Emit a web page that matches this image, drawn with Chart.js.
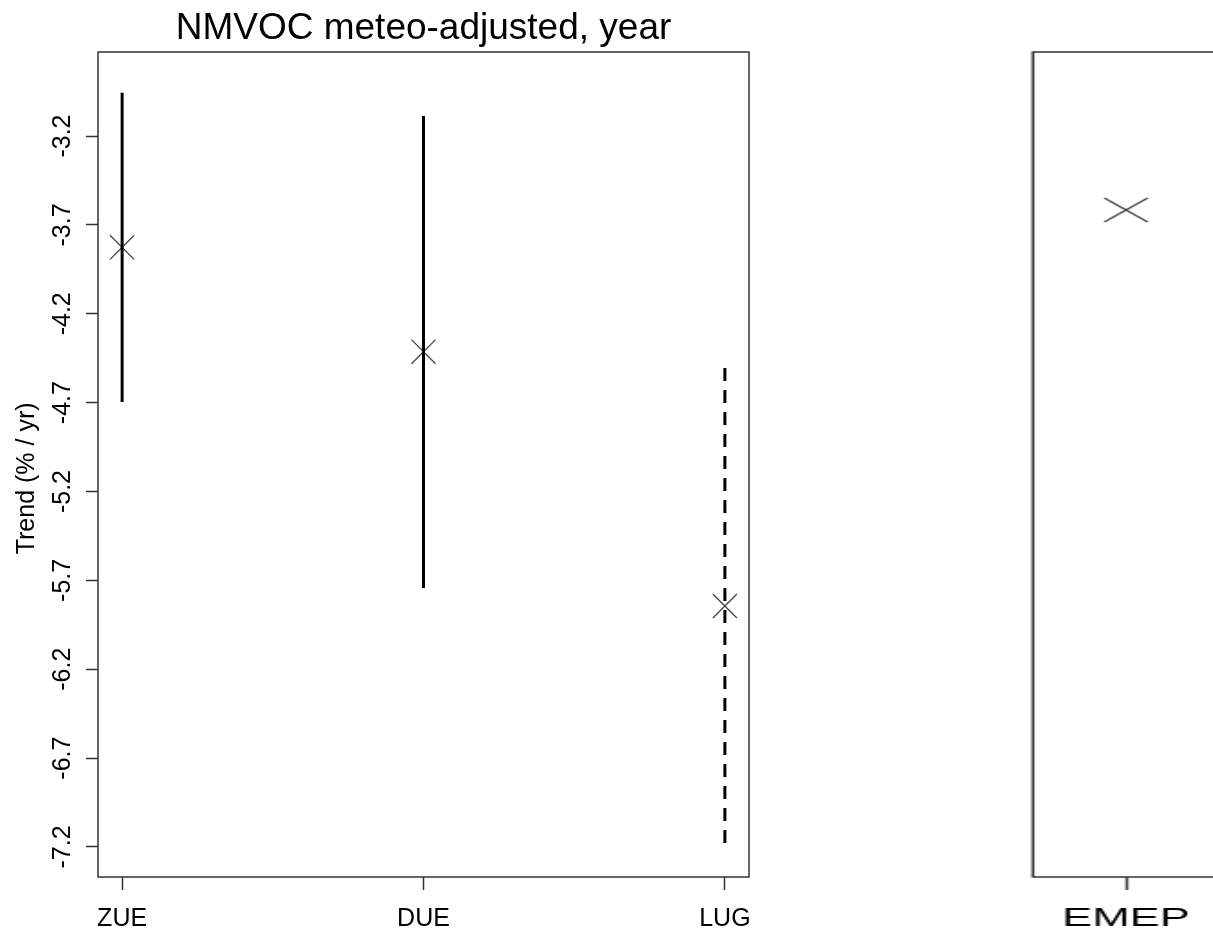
<!DOCTYPE html>
<html>
<head>
<meta charset="utf-8">
<script src="https://cdn.jsdelivr.net/npm/chart.js@4.4.0/dist/chart.umd.min.js"></script>
<style>
    html, body { margin: 0; padding: 0; background: #fff; overflow: hidden; width: 1213px; height: 931px; }
    #left { position: absolute; left: 0; top: 0; }
    /* the right panel in the original is stretched sideways */
    #right { position: absolute; left: 1000px; top: 0; transform: scaleX(1.8); transform-origin: 0 0; }
</style>
</head>
<body>
<canvas id="left" width="800" height="931"></canvas>
<canvas id="right" width="140" height="931"></canvas>
<script>
// --- DATA ---
const stations = ['ZUE', 'DUE', 'LUG'];
const trendEst = [-3.826, -4.413, -5.844];
const trendLo = [-4.697, -5.743, -7.178];
const trendHi = [-2.956, -3.087, -4.505];
const significant = [true, true, false];
const emepLabels = ['EMEP'];
const emepEst = [-3.616];
const yTicks = [-3.2, -3.7, -4.2, -4.7, -5.2, -5.7, -6.2, -6.7, -7.2];
const yMin = -7.369, yMax = -2.727;

const FONT = 'Liberation Sans, Arial, sans-serif';

// box round the plot area, like R's box()
const framePlugin = {
    id: 'frame',
    afterDraw(chart) {
        const { ctx, chartArea: a } = chart;
        ctx.save();
        ctx.strokeStyle = '#333';
        ctx.lineWidth = 1.5;
        ctx.strokeRect(a.left, a.top, a.right - a.left, a.bottom - a.top);
        ctx.restore();
    }
};

const xAxis = (labels, min, max) => ({
    type: 'linear',
    min: min,
    max: max,
    afterBuildTicks: s => { s.ticks = labels.map((_, i) => ({ value: i })); },
    ticks: {
        callback: (v, i) => labels[i],
        font: { family: FONT, size: 25 },
        color: '#000',
        padding: 14,
        minRotation: 0,
        maxRotation: 0,
        autoSkip: false
    },
    grid: { drawOnChartArea: false, tickLength: 13, tickWidth: 1.5, tickColor: '#333' },
    border: { display: false },
    afterFit: s => { s.height = 54; }
});

// --- LEFT PANEL ---
const errorBars = stations.map((s, i) => ({
    type: 'line',
    data: [{ x: i, y: trendHi[i] }, { x: i, y: trendLo[i] }],
    borderColor: '#000',
    borderWidth: 3,
    borderDash: significant[i] ? [] : [13, 9],
    pointRadius: 0,
    fill: false
}));

const markers = {
    type: 'scatter',
    data: stations.map((s, i) => ({ x: i, y: trendEst[i] })),
    pointStyle: 'crossRot',
    pointRadius: 17,
    borderColor: '#444',
    borderWidth: 1.3,
    backgroundColor: 'transparent'
};

new Chart(document.getElementById('left'), {
    type: 'scatter',
    data: { datasets: [...errorBars, markers] },
    options: {
        responsive: false,
        animation: false,
        layout: { padding: { left: 0, right: 51, top: 0, bottom: 0 } },
        plugins: {
            legend: { display: false },
            tooltip: { enabled: false },
            title: {
                display: true,
                text: 'NMVOC meteo-adjusted, year',
                fullSize: false,
                color: '#000',
                font: { family: FONT, size: 37, weight: 'normal' },
                padding: { top: 7, bottom: 0.6 }
            }
        },
        scales: {
            x: xAxis(stations, -0.08, 2.08),
            y: {
                type: 'linear',
                min: yMin,
                max: yMax,
                afterBuildTicks: s => { s.ticks = yTicks.map(v => ({ value: v })); },
                ticks: {
                    callback: (v, i) => yTicks[i].toFixed(1),
                    font: { family: FONT, size: 25 },
                    color: '#000',
                    minRotation: 90,
                    maxRotation: 90,
                    crossAlign: 'center',
                    padding: 1,
                    autoSkip: false
                },
                grid: { drawOnChartArea: false, tickLength: 12, tickWidth: 1.5, tickColor: '#333' },
                border: { display: false },
                title: {
                    display: true,
                    // trailing spaces push the label a little below the centre, as in the original
                    text: 'Trend (% / yr)    ',
                    color: '#000',
                    font: { family: FONT, size: 25 },
                    padding: { top: 12, bottom: 0 }
                },
                afterFit: s => { s.width = 98; }
            }
        }
    },
    plugins: [framePlugin]
});

// --- RIGHT PANEL (cut off at the window edge) ---
new Chart(document.getElementById('right'), {
    type: 'scatter',
    data: {
        datasets: [{
            data: emepLabels.map((s, i) => ({ x: i, y: emepEst[i] })),
            pointStyle: 'crossRot',
            pointRadius: 17,
            borderColor: '#444',
            borderWidth: 1.3,
            backgroundColor: 'transparent'
        }]
    },
    options: {
        responsive: false,
        animation: false,
        layout: { padding: { left: 17.2, right: 13.9, top: 52, bottom: 0 } },
        plugins: { legend: { display: false }, tooltip: { enabled: false } },
        scales: {
            x: xAxis(emepLabels, -0.5, 0.5),
            y: { type: 'linear', display: false, min: yMin, max: yMax }
        }
    },
    plugins: [framePlugin]
});
</script>
</body>
</html>
